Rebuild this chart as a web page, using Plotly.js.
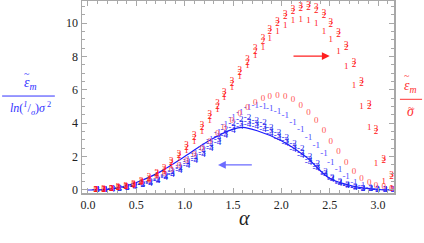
<!DOCTYPE html>
<html><head><meta charset="utf-8">
<script src="https://cdn.plot.ly/plotly-3.0.1.min.js"></script>
<style>body{margin:0;padding:0;background:#fff}#c{width:424px;height:243px}</style>
</head><body><div id="c"></div>
<script>
const alpha = [0.08,0.16,0.24,0.31,0.39,0.47,0.55,0.63,0.71,0.79,0.86,0.94,1.02,1.10,1.18,1.26,1.34,1.41,1.49,1.57,1.65,1.73,1.81,1.88,1.96,2.04,2.12,2.20,2.28,2.36,2.44,2.51,2.59,2.67,2.75,2.83,2.91,2.98,3.06,3.14];
const red3 = [0.02,0.05,0.10,0.18,0.25,0.38,0.55,0.78,1.05,1.35,1.75,2.20,2.72,3.30,3.90,4.55,5.20,5.88,6.55,7.20,7.85,8.50,9.10,9.65,10.15,10.55,10.85,11.05,11.10,10.95,10.60,10.10,9.45,8.70,7.70,6.55,5.15,3.65,1.90,0.90];
const red2 = [0.01,0.04,0.08,0.15,0.21,0.32,0.48,0.70,0.95,1.24,1.62,2.05,2.56,3.12,3.72,4.36,5.00,5.68,6.35,7.00,7.65,8.30,8.90,9.45,9.95,10.35,10.65,10.85,10.90,10.76,10.42,9.92,9.28,8.52,7.52,6.38,4.98,3.50,1.75,0.80];
const red1 = [0.01,0.03,0.07,0.13,0.18,0.28,0.42,0.62,0.85,1.12,1.48,1.88,2.35,2.90,3.50,4.15,4.82,5.50,6.15,6.80,7.42,8.02,8.55,9.05,9.50,9.85,10.15,10.20,10.15,9.93,9.50,8.98,8.26,7.37,6.23,5.00,3.70,1.60,0.50,0.10];
const red0 = [0.01,0.03,0.07,0.12,0.20,0.30,0.42,0.58,0.78,1.00,1.22,1.48,1.75,2.10,2.50,2.90,3.35,3.75,4.15,4.55,4.95,5.20,5.45,5.60,5.63,5.57,5.40,5.05,4.65,4.15,3.55,2.90,2.27,1.63,1.10,0.70,0.42,0.24,0.18,0.10];
const blue1 = [0.01,0.03,0.06,0.11,0.18,0.27,0.38,0.52,0.70,0.92,1.18,1.48,1.82,2.20,2.60,3.00,3.45,3.90,4.30,4.65,4.90,5.02,5.00,4.88,4.70,4.45,4.05,3.60,3.10,2.63,2.15,1.65,1.20,0.80,0.45,0.25,0.12,0.06,0.03,0.01];
const blue2 = [0.01,0.02,0.05,0.10,0.16,0.24,0.34,0.47,0.63,0.83,1.07,1.35,1.67,2.02,2.40,2.80,3.20,3.60,3.95,4.20,4.30,4.15,4.00,3.75,3.45,3.15,2.80,2.45,2.00,1.55,1.10,0.75,0.50,0.30,0.18,0.10,0.06,0.03,0.02,0.01];
const blue3 = [0.01,0.02,0.05,0.09,0.15,0.22,0.31,0.43,0.58,0.77,0.99,1.25,1.55,1.88,2.24,2.62,3.00,3.38,3.72,3.98,4.08,3.95,3.80,3.55,3.25,2.95,2.60,2.25,1.82,1.40,1.00,0.68,0.45,0.27,0.16,0.09,0.05,0.03,0.02,0.01];
const blue4 = [0.01,0.02,0.04,0.08,0.14,0.21,0.29,0.40,0.54,0.72,0.93,1.18,1.46,1.78,2.12,2.48,2.85,3.22,3.55,3.80,3.90,3.80,3.62,3.38,3.08,2.78,2.42,2.08,1.66,1.26,0.90,0.60,0.40,0.24,0.14,0.08,0.05,0.03,0.02,0.01];
const lineAlpha = [0.00,0.25,0.50,0.75,1.00,1.25,1.50,1.60,1.75,2.00,2.25,2.50,2.75,3.00,3.14];
const lineVal   = [0.00,0.07,0.45,1.10,2.00,2.95,3.65,3.75,3.55,2.95,2.00,0.70,0.22,0.04,0.00];
const xTickVals = [0,0.5,1,1.5,2,2.5,3];
const xTickText = ["0.0","0.5","1.0","1.5","2.0","2.5","3.0"];
const yTickVals = [0,2,4,6,8,10];

const SERIF = 'Liberation Serif';

const mk = (y, label, color) => ({
  x: alpha, y: y, mode: 'text', text: alpha.map(() => label),
  textfont: {family: SERIF, size: 9, color: color},
  textposition: 'middle center', hoverinfo: 'skip', showlegend: false, cliponaxis: true
});

const traces = [
  {x: lineAlpha, y: lineVal, mode: 'lines', line: {color: '#1a1aff', width: 1.2, shape: 'spline'}, showlegend: false},
  mk(blue4, '-4', '#2222ee'),
  mk(blue3, '-3', '#2222ee'),
  mk(blue2, '-2', '#2222ee'),
  mk(blue1, '-1', '#4d4dff'),
  mk(red0, '0', '#ff5555'),
  mk(red1, '1', '#ff2020'),
  mk(red3, '3', '#ff1010'),
  mk(red2, '2', '#ff1010')
];

const axisCommon = {
  showline: true, linecolor: '#a8a8a8', linewidth: 1.5, mirror: 'ticks',
  ticks: 'inside', ticklen: 5, tickwidth: 1, tickcolor: '#a8a8a8',
  showgrid: false, zeroline: false,
  tickfont: {family: SERIF, size: 12, color: '#222'}
};

const tilde = (x, y, color, size) => ({xref: 'paper', yref: 'paper', x: x, y: y, showarrow: false,
  xanchor: 'center', yanchor: 'middle', text: '~', font: {family: SERIF, size: size, color: color}});

const layout = {
  width: 424, height: 243,
  margin: {l: 82, r: 30, t: 1, b: 50},
  paper_bgcolor: '#fff', plot_bgcolor: '#fff',
  font: {family: SERIF},
  xaxis: Object.assign({}, axisCommon, {
    range: [-0.062, 3.165], tickmode: 'array', tickvals: xTickVals, ticktext: xTickText,
    minor: {dtick: 0.1, ticklen: 3, ticks: 'inside', tickcolor: '#a8a8a8'}
  }),
  yaxis: Object.assign({}, axisCommon, {
    range: [-0.18, 11.32], tickmode: 'array', tickvals: yTickVals,
    minor: {dtick: 0.5, ticklen: 3, ticks: 'inside', tickcolor: '#a8a8a8'}
  }),
  annotations: [
    {xref: 'paper', yref: 'paper', x: 0.522, y: -0.13, xanchor: 'center', yanchor: 'middle', showarrow: false,
     text: '<i>α</i>', font: {family: SERIF, size: 20, color: '#222'}},
    // left label
    {xref: 'paper', yref: 'paper', x: -0.165, y: 0.515, showarrow: false, xanchor: 'center', yanchor: 'bottom',
     text: '<i>ε</i><sub><i>m</i></sub>', font: {family: SERIF, size: 14, color: '#3333ff'}},
    tilde(-0.176, 0.625, '#3333ff', 10),
    {xref: 'paper', yref: 'paper', x: -0.165, y: 0.495, showarrow: false, xanchor: 'center', yanchor: 'top',
     text: '<i>ln</i>(<sup><i>1</i></sup>/<sub><i>σ</i></sub>)<i>σ</i><sup> 2</sup>', font: {family: SERIF, size: 12, color: '#3333ff'}},
    // right label
    {xref: 'paper', yref: 'paper', x: 1.054, y: 0.50, showarrow: false, xanchor: 'center', yanchor: 'bottom',
     text: '<i>ε</i><sub><i>m</i></sub>', font: {family: SERIF, size: 14, color: '#ff3333'}},
    tilde(1.043, 0.61, '#ff3333', 10),
    {xref: 'paper', yref: 'paper', x: 1.054, y: 0.475, showarrow: false, xanchor: 'center', yanchor: 'top',
     text: '<i>σ</i>', font: {family: SERIF, size: 14, color: '#ff3333'}},
    tilde(1.056, 0.445, '#ff3333', 10),
    // arrows
    {xref: 'x', yref: 'y', axref: 'x', ayref: 'y', x: 2.50, y: 8.02, ax: 2.11, ay: 8.02, showarrow: true,
     arrowhead: 2, arrowsize: 1.2, arrowwidth: 1.3, arrowcolor: '#ff2020', text: ''},
    {xref: 'x', yref: 'y', axref: 'x', ayref: 'y', x: 1.345, y: 1.5, ax: 1.71, ay: 1.5, showarrow: true,
     arrowhead: 2, arrowsize: 1.2, arrowwidth: 1.3, arrowcolor: '#6b6bff', text: ''}
  ],
  shapes: [
    {type: 'line', xref: 'paper', yref: 'paper', x0: -0.256, x1: -0.087, y0: 0.505, y1: 0.505, line: {color: '#3333ff', width: 1}},
    {type: 'line', xref: 'paper', yref: 'paper', x0: 1.019, x1: 1.09, y0: 0.488, y1: 0.488, line: {color: '#ff3333', width: 1}}
  ]
};

Plotly.newPlot('c', traces, layout, {displayModeBar: false, staticPlot: true});
</script></body></html>
